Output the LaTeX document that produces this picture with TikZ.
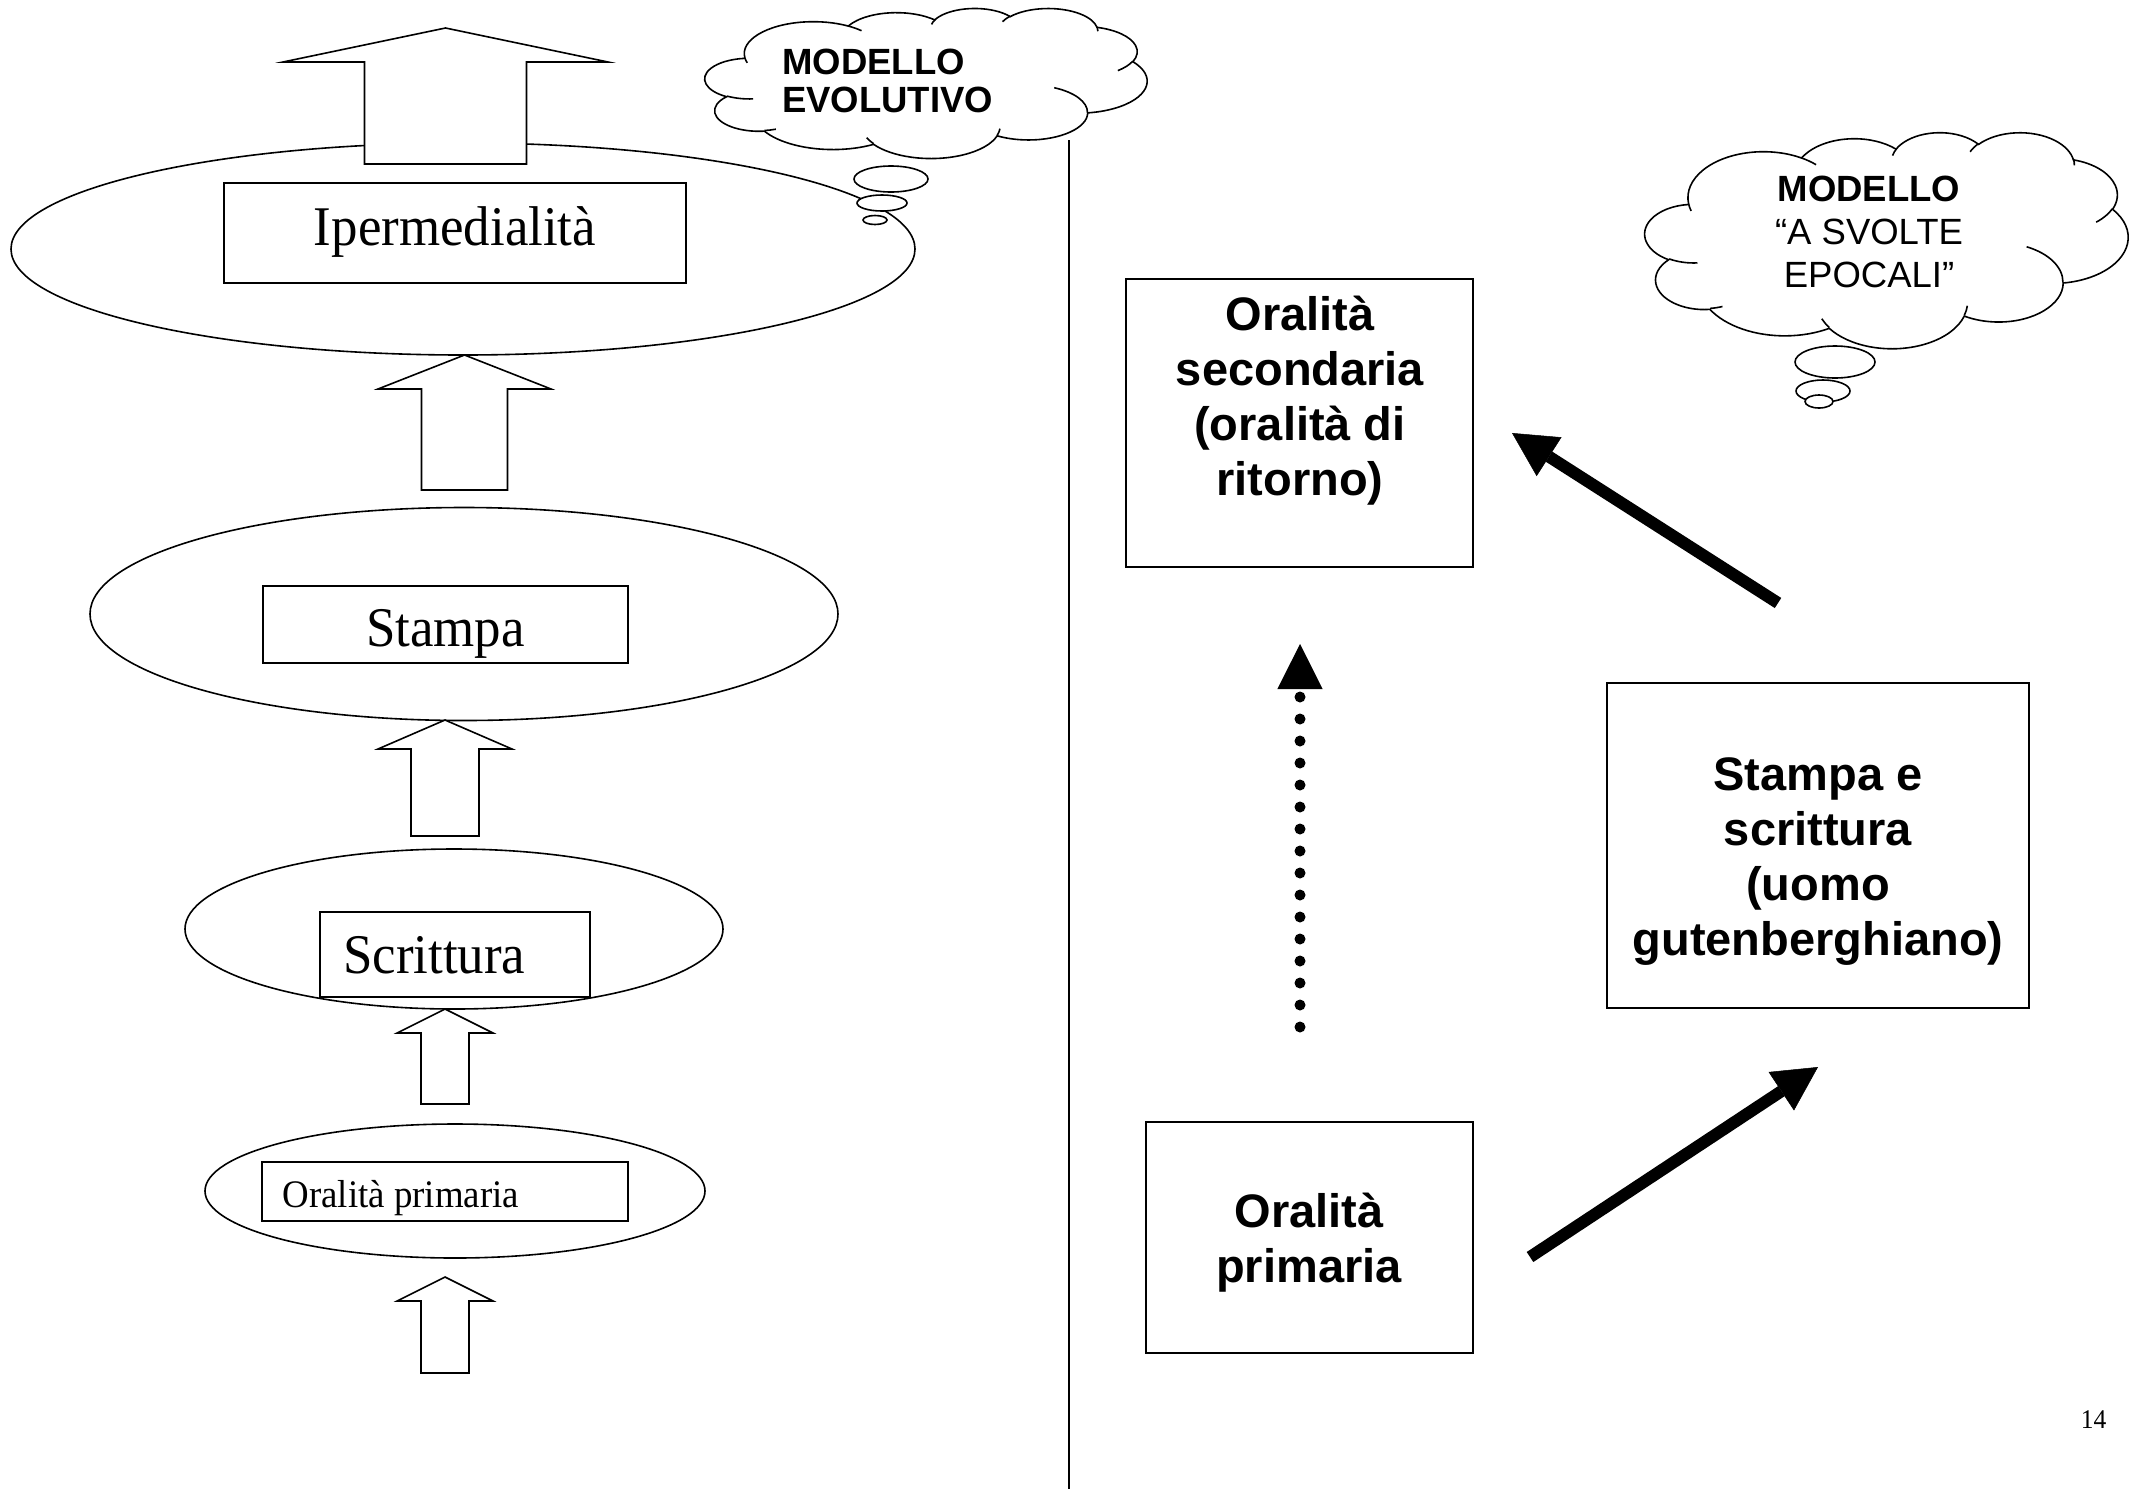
\documentclass[tikz,border=0pt]{standalone}
\usepackage{fontspec}
\setmainfont{Liberation Serif}
\newfontfamily\labfont[FakeStretch=0.945]{Liberation Serif}
\newfontfamily\arialfont{Liberation Sans}
\usetikzlibrary{shapes.geometric, arrows.meta}

% elliptical arc given as (x radius, y radius, visual start angle, sweep)
\newcommand\carc[4]{arc[x radius=#1, y radius=#2,
  start angle={atan2(#1*sin(#3),#2*cos(#3))},
  delta angle={mod(atan2(#1*sin((#3)+(#4)),#2*cos((#3)+(#4)))-atan2(#1*sin(#3),#2*cos(#3))+720,360)}]}

% cloud outline in a 432 x 432 box (y pointing down)
\newcommand\cloudoutline{(39.00,143.70)
  \carc{67.53}{91.90}{-190.48748}{123.78053}
  \carc{53.33}{72.67}{-144.10238}{89.94523}
  \carc{43.65}{59.45}{-145.80792}{99.72302}
  \carc{48.57}{65.95}{-130.98607}{117.24173}
  \carc{53.33}{72.73}{-78.70888}{109.02692}
  \carc{67.75}{92.20}{-46.26725}{130.26900}
  \carc{57.85}{78.67}{0.62502}{114.03333}
  \carc{67.52}{92.15}{22.45160}{115.17255}
  \carc{77.20}{105.43}{66.24263}{75.71102}
  \carc{43.60}{59.18}{-274.94208}{146.73557}
  \carc{43.45}{59.45}{-246.82850}{152.51885} -- cycle}

% the short creases inside the cloud
\newcommand\cloudcreases{
  (46.93,261.77) \carc{43.45}{59.45}{86.74200}{26.42950}
  (69.28,348.99) \carc{43.60}{59.18}{73.61047}{11.44747}
  (164.78,390.90) \carc{67.52}{92.15}{137.62415}{14.08110}
  (288.27,347.51) \carc{67.52}{92.15}{6.45327}{15.99835}
  (341.29,229.54) \carc{57.85}{78.67}{-70.29235}{70.91737}
  (417.98,153.54) \carc{53.33}{72.73}{30.31803}{27.75150}
  (383.24,54.26) \carc{48.57}{65.95}{-13.74433}{14.85890}
  (290.78,39.52) \carc{48.57}{65.95}{-149.18145}{18.19537}
  (221.41,47.20) \carc{43.65}{59.45}{-163.49427}{17.68635}
  (140.00,51.92) \carc{67.53}{91.90}{-66.70695}{12.31935}
  (41.27,157.89) \carc{67.53}{91.90}{157.65435}{11.85817}}

% hollow upward block arrow: centre x, tip y, head base y, half head, half shaft, bottom y
\newcommand\blockarrow[6]{\draw[blockarrow] (#1,#2) -- ({#1+#4},#3) -- ({#1+#5},#3)
  -- ({#1+#5},#6) -- ({#1-#5},#6) -- ({#1-#5},#3) -- ({#1-#4},#3) -- cycle;}

\tikzset{
  outl/.style={draw=black, line width=1.6pt},
  ell/.style={ellipse, outl, fill=white, inner sep=0pt},
  labbox/.style={rectangle, outl, fill=white, inner sep=0pt},
  blockarrow/.style={outl, fill=white, line join=miter},
  biglab/.style={inner sep=0pt, font=\labfont\fontsize{56}{60}\selectfont},
  smalllab/.style={inner sep=0pt, font=\labfont\fontsize{39}{44}\selectfont},
  bigbox/.style={rectangle, draw=black, line width=2pt, inner sep=0pt},
  boxtext/.style={inner sep=0pt, align=center, font=\arialfont\bfseries\fontsize{47}{55}\selectfont},
  cloudline/.style={draw=black, line width=1.6pt},
  bubble/.style={ellipse, outl, fill=white, inner sep=0pt},
  thickarrow/.style={line width=12pt, -{Triangle[length=44pt, width=46pt, line width=0.5pt]}},
  dotarrow/.style={line width=11pt, line cap=round, dash pattern=on 0pt off 22pt,
    -{Triangle[length=45pt, width=45pt, line width=0.5pt]}},
}

\begin{document}
\begin{tikzpicture}[x=1pt, y=-1pt]
\fill[white] (0,0) rectangle (2141,1489);
\useasboundingbox (0,0) rectangle (2141,1489);

% dividing line
\coordinate (vtop) at (1069,140);
\coordinate (vbot) at (1069,1489);
\draw[outl] (vtop) -- (vbot);

% ---- evolutionary model (left) ----
\node[ell, minimum width=904pt, minimum height=212pt] (E1) at (463,249) {};
\node[ell, minimum width=748pt, minimum height=213pt] (E2) at (464,614) {};
\node[ell, minimum width=538pt, minimum height=160pt] (E3) at (454,929) {};
\node[ell, minimum width=500pt, minimum height=134pt] (E4) at (455,1191) {};

\blockarrow{445.5}{28}{62}{162.5}{81}{164}
\blockarrow{464.5}{355}{389}{86.5}{43}{490}
\blockarrow{445}{720}{749}{67}{34}{836}
\blockarrow{445}{1009}{1033}{48}{24}{1104}
\blockarrow{445}{1277}{1301}{48}{24}{1373}

\node[labbox, minimum width=462pt, minimum height=100pt] (R1) at (455,233) {};
\node[labbox, minimum width=365pt, minimum height=77pt] (R2) at (445.5,624.5) {};
\node[labbox, minimum width=270pt, minimum height=85pt] (R3) at (455,954.5) {};
\node[labbox, minimum width=366pt, minimum height=59pt] (R4) at (445,1191.5) {};

\node[biglab, anchor=base] (L1) at (455,245) {Ipermedialità};
\node[biglab, anchor=base] (L2) at (445.5,646) {Stampa};
\node[biglab, anchor=base west] (L3) at (343,973) {Scrittura};
\node[smalllab, anchor=base west] (L4) at (282.5,1207) {Oralità primaria};

% thought cloud of the evolutionary model
\begin{scope}[shift={(705,8)}, x=1.02315pt, y=-0.34722pt]
  \draw[cloudline, fill=white] \cloudoutline;
  \draw[cloudline] \cloudcreases;
\end{scope}
\node[bubble, minimum width=74pt, minimum height=26pt] (b11) at (891,179) {};
\node[bubble, minimum width=50pt, minimum height=16pt] (b12) at (882,203) {};
\node[bubble, minimum width=24pt, minimum height=9pt] (b13) at (875,220) {};
\node[anchor=west, inner sep=0pt, align=left,
      font=\arialfont\bfseries\fontsize{36.5}{38}\selectfont] (evo) at (782,81)
  {MODELLO\\EVOLUTIVO};

% ---- epochal model (right) ----
\begin{scope}[shift={(1645,132)}, x=1.11806pt, y=-0.5pt]
  \draw[cloudline, fill=white] \cloudoutline;
  \draw[cloudline] \cloudcreases;
\end{scope}
\node[bubble, minimum width=80pt, minimum height=32pt] (b21) at (1835,362) {};
\node[bubble, minimum width=54pt, minimum height=22pt] (b22) at (1823,391) {};
\node[bubble, minimum width=28pt, minimum height=13pt] (b23) at (1819,401.5) {};
\node[anchor=center, inner sep=0pt, align=center,
      font=\arialfont\fontsize{36.5}{43}\selectfont] (svo) at (1869,232)
  {\bfseries MODELLO\\“A SVOLTE\\EPOCALI”};

\node[bigbox, minimum width=347pt, minimum height=288pt] (OS) at (1299.5,423) {};
\node[bigbox, minimum width=422pt, minimum height=325pt] (SS) at (1818,845.5) {};
\node[bigbox, minimum width=327pt, minimum height=231pt] (OP) at (1309.5,1237.5) {};

\node[boxtext] (OStxt) at (1300,401) {Oralità\\secondaria\\(oralità di\\ritorno)};
\node[boxtext] (SStxt) at (1818,862) {Stampa e\\scrittura\\(uomo\\gutenberghiano)};
\node[boxtext] (OPtxt) at (1309,1243) {Oralità\\primaria};

\coordinate (aS) at (1778,603);
\coordinate (aT) at (1512,433);
\coordinate (bS) at (1530,1257);
\coordinate (bT) at (1818,1067);
\coordinate (dS) at (1300,1027);
\coordinate (dT) at (1300,644);
\draw[thickarrow] (bS) -- (bT);
\draw[thickarrow] (aS) -- (aT);
\draw[dotarrow] (dS) -- (dT);

% page number
\node[inner sep=0pt, anchor=base, font=\labfont\fontsize{27}{30}\selectfont] (pg) at (2093.5,1428) {14};
\end{tikzpicture}
\end{document}
